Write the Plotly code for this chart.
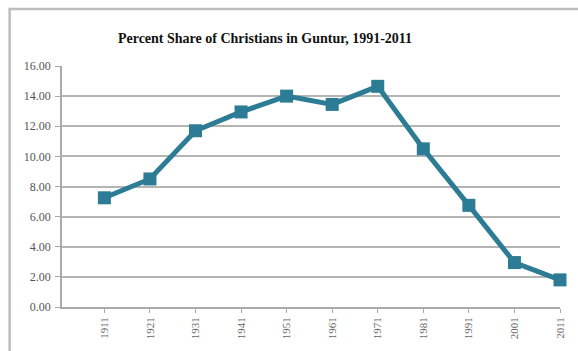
import plotly.graph_objects as go

years = ["1911", "1921", "1931", "1941", "1951", "1961", "1971", "1981", "1991", "2001", "2011"]
share = [7.25, 8.5, 11.7, 12.95, 14.0, 13.45, 14.65, 10.5, 6.75, 2.95, 1.8]
y_ticks = [0, 2, 4, 6, 8, 10, 12, 14, 16]
y_tick_labels = ["0.00", "2.00", "4.00", "6.00", "8.00", "10.00", "12.00", "14.00", "16.00"]

W, H = 578, 351
ml, mr, mt, mb = 62, 12, 66, 40

fig = go.Figure()
fig.add_trace(go.Scatter(
    x=list(range(len(years))), y=share, mode="lines+markers",
    line=dict(color="#2b7c94", width=5),
    marker=dict(symbol="square", size=13, color="#2b7c94"),
    cliponaxis=False, showlegend=False,
))

fig.update_layout(
    width=W, height=H,
    margin=dict(l=ml, r=mr, t=mt, b=mb),
    paper_bgcolor="white", plot_bgcolor="white",
    font=dict(family="Liberation Serif", color="#555555"),
    title=dict(text="<b>Percent Share of Christians in Guntur, 1991-2011</b>",
               x=265 / W, xanchor="center", y=1 - 38 / H, yanchor="middle",
               font=dict(family="Liberation Serif", size=14, color="#111111")),
    xaxis=dict(
        range=[-0.93, 10.0], tickmode="array", tickvals=list(range(len(years))),
        ticktext=years, tickangle=-90, tickfont=dict(size=11, color="#666666"),
        showgrid=False, showline=True, linecolor="#aaaaaa", linewidth=1.5,
        ticks="outside", ticklen=4, tickcolor="#aaaaaa", zeroline=False,
    ),
    yaxis=dict(
        range=[0, 16], tickmode="array", tickvals=y_ticks, ticktext=y_tick_labels,
        tickfont=dict(size=12, color="#555555"), ticklabelstandoff=2,
        showgrid=True, gridcolor="#b4b4b4", gridwidth=2,
        showline=True, linecolor="#aaaaaa", linewidth=1.5,
        ticks="outside", ticklen=5, tickcolor="#aaaaaa", zeroline=False,
    ),
    shapes=[dict(type="rect", xref="paper", yref="paper",
                 x0=-(ml - 9) / (W - ml - mr), x1=1.2,
                 y0=-0.5, y1=1 + (mt - 8) / (H - mt - mb),
                 line=dict(color="#bdbdbd", width=2.5), layer="below")],
)

fig.write_html("out.html")
